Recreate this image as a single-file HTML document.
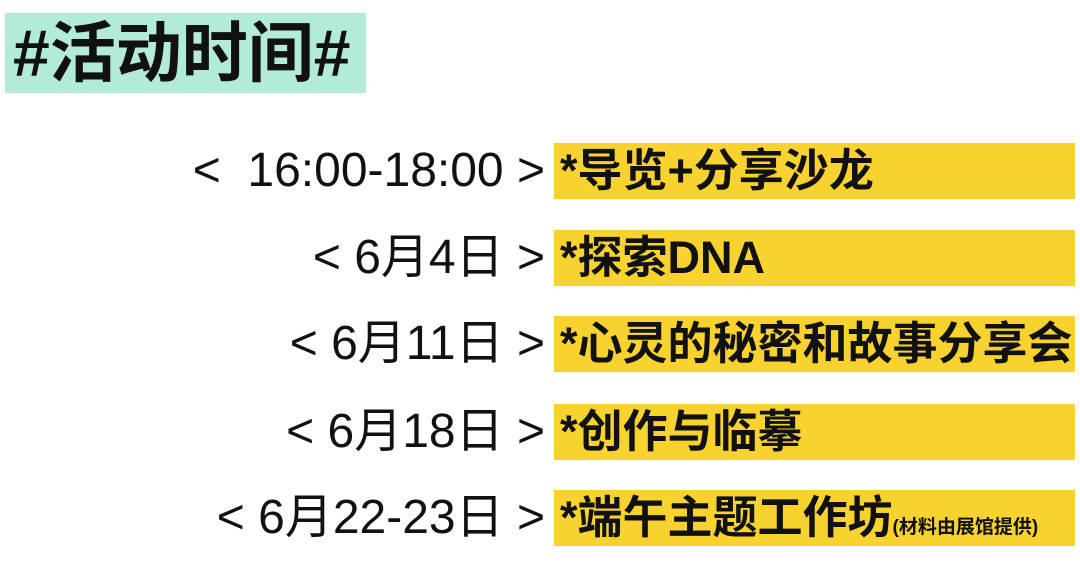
<!DOCTYPE html>
<html><head><meta charset="utf-8"><style>
body{margin:0;width:1080px;height:568px;background:#fff;position:relative;overflow:hidden;font-family:"Liberation Sans","Noto Sans CJK SC",sans-serif;}
.t{position:absolute;left:5px;top:13px;width:361px;height:80px;background:#b3ecd4;font-weight:bold;font-size:66px;line-height:80px;padding-left:8px;box-sizing:border-box;color:#111;white-space:nowrap;}
.y{position:absolute;left:554px;width:521px;height:56px;background:#f8d22f;font-weight:bold;font-size:45px;line-height:56px;padding-left:6px;box-sizing:border-box;color:#111;white-space:nowrap;}
.l{position:absolute;right:535px;height:56px;line-height:56px;font-size:48px;color:#111;white-space:nowrap;}
.s{font-size:19px;}
</style></head><body>
<div class="t">#活动时间#</div>
<div class="l" style="top:143px">&lt;&nbsp; 16:00-18:00 &gt;</div>
<div class="y" style="top:143px">*导览+分享沙龙</div>
<div class="l" style="top:230px">&lt; 6月4日 &gt;</div>
<div class="y" style="top:230px">*探索DNA</div>
<div class="l" style="top:316px">&lt; 6月11日 &gt;</div>
<div class="y" style="top:316px">*心灵的秘密和故事分享会</div>
<div class="l" style="top:404px">&lt; 6月18日 &gt;</div>
<div class="y" style="top:404px">*创作与临摹</div>
<div class="l" style="top:490px">&lt; 6月22-23日 &gt;</div>
<div class="y" style="top:490px">*端午主题工作坊<span class="s">(材料由展馆提供)</span></div>
</body></html>
